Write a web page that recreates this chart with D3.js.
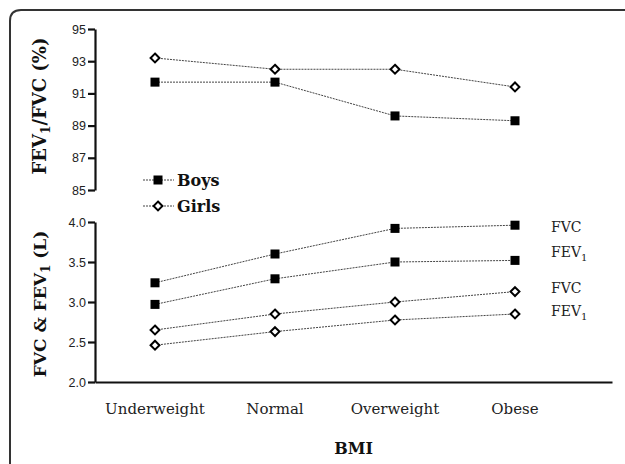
<!DOCTYPE html>
<html>
<head>
<meta charset="utf-8">
<script src="https://cdn.jsdelivr.net/npm/d3@7"></script>
<style>
  body { margin: 0; background: #fff; }
  svg { display: block; font-family: "DejaVu Serif", "Liberation Serif", serif; }
  .tick text { font-size: 12.5px; fill: #222; }
  .domain, .tick line { stroke: #111; stroke-width: 2.2px; }
  .series { fill: none; stroke: #444; stroke-width: 1px; stroke-dasharray: 2,1; }
</style>
</head>
<body>
<div id="chart"></div>
<script>
// data
var categories = ["Underweight", "Normal", "Overweight", "Obese"];
var ratioBoys = [91.7, 91.7, 89.6, 89.3];
var ratioGirls = [93.2, 92.5, 92.5, 91.4];
var fvcBoys = [3.24, 3.60, 3.92, 3.96];
var fev1Boys = [2.97, 3.29, 3.50, 3.52];
var fvcGirls = [2.65, 2.85, 3.00, 3.13];
var fev1Girls = [2.46, 2.63, 2.775, 2.85];
var ratioTicks = [85, 87, 89, 91, 93, 95];
var volTicks = [2.0, 2.5, 3.0, 3.5, 4.0];

var svgWidth = 625;
var svgHeight = 464;

var svg = d3.select("#chart")
            .append("svg")
            .attr("width", svgWidth)
            .attr("height", svgHeight);

// frame, cut off at right and bottom
svg.append("path")
   .attr("d", "M10,470 L10,21 Q10,10 21,10 L630,10")
   .attr("fill", "none")
   .attr("stroke", "#333")
   .attr("stroke-width", 2);

var axisX = 95;
var axisRight = 612;

var xScale = d3.scalePoint()
               .domain(categories)
               .range([155, 515]);

var yTop = d3.scaleLinear().domain([85, 95]).range([190, 29]);
var yBottom = d3.scaleLinear().domain([2, 4]).range([382, 222]);

// top axis
svg.append("g")
   .attr("transform", `translate(${axisX},0)`)
   .call(d3.axisLeft(yTop).tickValues(ratioTicks).tickSize(7).tickSizeOuter(0).tickPadding(2));

// bottom axes
svg.append("g")
   .attr("transform", `translate(${axisX},0)`)
   .call(d3.axisLeft(yBottom).tickValues(volTicks).tickSize(7).tickSizeOuter(0).tickPadding(2)
           .tickFormat(d3.format(".1f")));

svg.append("g")
   .attr("transform", `translate(0,382)`)
   .call(d3.axisBottom(d3.scaleLinear().range([axisX, axisRight])).tickValues([]).tickSizeOuter(0));

// category labels
svg.selectAll(".cat")
   .data(categories)
   .enter()
   .append("text")
   .attr("x", d => xScale(d))
   .attr("y", 414)
   .attr("text-anchor", "middle")
   .style("font-size", "15px")
   .style("fill", "#222")
   .text(d => d);

var line = d3.line().x((d, i) => xScale(categories[i]));

function drawSeries(values, yScale, filled) {
  svg.append("path")
     .datum(values)
     .attr("class", "series")
     .attr("d", line.y(d => yScale(d)));
  var g = svg.append("g");
  if (filled) {
    g.selectAll("rect")
     .data(values)
     .enter()
     .append("rect")
     .attr("x", (d, i) => xScale(categories[i]) - 4.5)
     .attr("y", d => yScale(d) - 4.5)
     .attr("width", 9)
     .attr("height", 9)
     .attr("fill", "#000");
  } else {
    g.selectAll("path")
     .data(values)
     .enter()
     .append("path")
     .attr("d", d3.symbol(d3.symbolDiamond2, 50))
     .attr("transform", (d, i) => `translate(${xScale(categories[i])},${yScale(d)})`)
     .attr("fill", "#fff")
     .attr("stroke", "#000")
     .attr("stroke-width", 2);
  }
}

drawSeries(ratioGirls, yTop, false);
drawSeries(ratioBoys, yTop, true);
drawSeries(fvcBoys, yBottom, true);
drawSeries(fev1Boys, yBottom, true);
drawSeries(fvcGirls, yBottom, false);
drawSeries(fev1Girls, yBottom, false);

// legend
var legend = [{name: "Boys", filled: true, y: 180}, {name: "Girls", filled: false, y: 206}];
legend.forEach(function(l) {
  svg.append("line")
     .attr("class", "series")
     .attr("x1", 143).attr("x2", 174)
     .attr("y1", l.y).attr("y2", l.y);
  if (l.filled) {
    svg.append("rect")
       .attr("x", 153.5).attr("y", l.y - 4.5)
       .attr("width", 9).attr("height", 9)
       .attr("fill", "#000");
  } else {
    svg.append("path")
       .attr("d", d3.symbol(d3.symbolDiamond2, 50))
       .attr("transform", `translate(158,${l.y})`)
       .attr("fill", "#fff").attr("stroke", "#000").attr("stroke-width", 2);
  }
  svg.append("text")
     .attr("x", 177).attr("y", l.y + 6)
     .style("font-size", "16px")
     .style("font-weight", "bold")
     .style("fill", "#111")
     .text(l.name);
});

// series labels at right
var seriesLabels = [
  {main: "FVC", sub: "", v: fvcBoys[3] - 0.02},
  {main: "FEV", sub: "1", v: fev1Boys[3] + 0.1},
  {main: "FVC", sub: "", v: fvcGirls[3] + 0.05},
  {main: "FEV", sub: "1", v: fev1Girls[3] + 0.04}
];
seriesLabels.forEach(function(s) {
  var t = svg.append("text")
     .attr("x", 551)
     .attr("y", yBottom(s.v) + 5)
     .style("font-size", "14px")
     .style("fill", "#222")
     .text(s.main);
  if (s.sub) {
    t.append("tspan").attr("dy", 4).style("font-size", "10px").text(s.sub);
  }
});

// axis titles
var topTitle = svg.append("text")
   .attr("transform", `translate(46,106) rotate(-90)`)
   .attr("text-anchor", "middle")
   .style("font-size", "18px")
   .style("font-weight", "bold")
   .style("fill", "#111")
   .text("FEV");
topTitle.append("tspan").attr("dy", 4).style("font-size", "12px").text("1");
topTitle.append("tspan").attr("dy", -4).text("/FVC (%)");

var bottomTitle = svg.append("text")
   .attr("transform", `translate(46,304) rotate(-90)`)
   .attr("text-anchor", "middle")
   .style("font-size", "17px")
   .style("font-weight", "bold")
   .style("fill", "#111")
   .text("FVC & FEV");
bottomTitle.append("tspan").attr("dy", 4).style("font-size", "12px").text("1");
bottomTitle.append("tspan").attr("dy", -4).text(" (L)");

svg.append("text")
   .attr("x", (axisX + axisRight) / 2)
   .attr("y", 454)
   .attr("text-anchor", "middle")
   .style("font-size", "16px")
   .style("font-weight", "bold")
   .style("fill", "#111")
   .text("BMI");
</script>
</body>
</html>
